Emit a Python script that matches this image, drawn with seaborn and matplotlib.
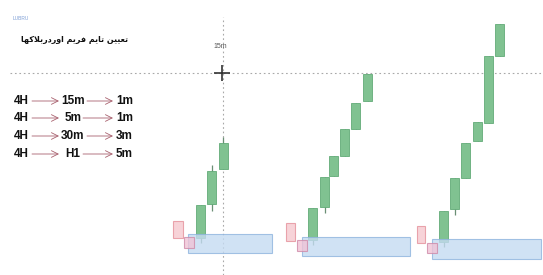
import matplotlib
matplotlib.use("Agg")
import matplotlib.pyplot as plt
from matplotlib.patches import Rectangle
import seaborn as sns

# candle data (price units, bottom of image = 0)
g1_x = [200.5, 211.5, 223.0]
g1_open = [37, 71, 106]
g1_close = [70, 104, 132]
g1_low = [32, 64, 106]
g1_high = [70, 110, 138]

g2_x = [312.5, 324.5, 333.5, 344.5, 355.5, 367.5]
g2_open = [35, 68, 99, 119, 146, 174]
g2_close = [67, 98, 119, 146, 172, 201]
g2_low = [30, 62, 99, 119, 146, 174]
g2_high = [67, 98, 119, 146, 172, 201]

g3_x = [443.5, 454.5, 465.5, 477.5, 488.5, 499.5]
g3_open = [33, 66, 97, 134, 152, 219]
g3_close = [64, 97, 132, 153, 219, 251]
g3_low = [28, 60, 97, 134, 152, 219]
g3_high = [64, 97, 132, 153, 219, 251]

# zones: (x_left, x_right, low, high)
red_zones = [(173, 183, 37, 54), (286, 295, 34, 52), (417, 425, 32, 49)]
pink_zones = [(184, 194, 27, 38), (297, 307, 24, 35), (427, 437, 22, 32)]
blue_zones = [(188, 272, 22, 41), (302, 410, 19, 38), (432, 541, 16, 36)]

level_price = 202
cross_x = 222
tf_rows = [("4H", "15m", "1m"), ("4H", "5m", "1m"), ("4H", "30m", "3m"), ("4H", "H1", "5m")]
row_price = [174, 157, 139, 121]
title_fa = "تعیین تایم فریم اوردربلاکها"

# simple arabic-script shaping (matplotlib does no shaping / RTL)
FORMS = {
    'ت': ('\uFE95', '\uFE96', '\uFE97', '\uFE98'),
    'ع': ('\uFEC9', '\uFECA', '\uFECB', '\uFECC'),
    'ی': ('\uFBFC', '\uFBFD', '\uFBFE', '\uFBFF'),
    'ن': ('\uFEE5', '\uFEE6', '\uFEE7', '\uFEE8'),
    'ا': ('\uFE8D', '\uFE8E', None, None),
    'م': ('\uFEE1', '\uFEE2', '\uFEE3', '\uFEE4'),
    'ف': ('\uFED1', '\uFED2', '\uFED3', '\uFED4'),
    'ر': ('\uFEAD', '\uFEAE', None, None),
    'و': ('\uFEED', '\uFEEE', None, None),
    'د': ('\uFEA9', '\uFEAA', None, None),
    'ب': ('\uFE8F', '\uFE90', '\uFE91', '\uFE92'),
    'ل': ('\uFEDD', '\uFEDE', '\uFEDF', '\uFEE0'),
    'ک': ('\uFB8E', '\uFB8F', '\uFB90', '\uFB91'),
    'ه': ('\uFEE9', '\uFEEA', '\uFEEB', '\uFEEC'),
}


def shape(text):
    out = []
    for word in text.split(' '):
        res = []
        i = 0
        n = len(word)
        while i < n:
            c = word[i]
            prev_joins = i > 0 and FORMS[word[i - 1]][2] is not None
            if c == 'ل' and i + 1 < n and word[i + 1] == 'ا':
                res.append('\uFEFC' if prev_joins else '\uFEFB')
                i += 2
                continue
            next_joins = i + 1 < n and FORMS[c][2] is not None
            if prev_joins and next_joins:
                res.append(FORMS[c][3])
            elif prev_joins:
                res.append(FORMS[c][1])
            elif next_joins:
                res.append(FORMS[c][2])
            else:
                res.append(FORMS[c][0])
            i += 1
        out.append(''.join(res))
    return ' '.join(out)[::-1]


sns.set_theme(style="white")
plt.rcParams['font.family'] = ['Liberation Sans', 'DejaVu Sans']

fig = plt.figure(figsize=(5.43, 2.75), dpi=100)
ax = fig.add_axes([0, 0, 1, 1])
ax.set_xlim(0, 543)
ax.set_ylim(0, 275)
ax.axis('off')

# guide lines
ax.axhline(level_price, xmin=10 / 543, xmax=1, color='#a8a8a8', lw=0.8, ls=(0, (1.5, 2.5)), zorder=1)
ax.axvline(cross_x + 1, ymin=0, ymax=258 / 275, color='#a8a8a8', lw=0.8, ls=(0, (1.5, 2.5)), zorder=1)
ax.plot([cross_x], [level_price], marker='+', ms=11, mew=1.2, color='#333333', zorder=5)
ax.text(cross_x - 2, 228, "15m", fontsize=5, color='#555555', ha='center', va='center')

# zones
for zones, fc, ec in [(red_zones, '#f6c9cf', '#e5919b'),
                      (blue_zones, '#c5dbf2', '#8fb4de'),
                      (pink_zones, '#f0c3d6', '#cf8aa9')]:
    for x0, x1, lo, hi in zones:
        ax.add_patch(Rectangle((x0, lo), x1 - x0, hi - lo, facecolor=fc, edgecolor=ec,
                               lw=0.8, alpha=0.8, zorder=4))

# candles
for xs, op, cl, lo, hi in [(g1_x, g1_open, g1_close, g1_low, g1_high),
                           (g2_x, g2_open, g2_close, g2_low, g2_high),
                           (g3_x, g3_open, g3_close, g3_low, g3_high)]:
    ax.vlines(xs, lo, hi, color='#6a8f74', lw=0.9, zorder=2)
    ax.bar(xs, [c - o for o, c in zip(op, cl)], bottom=op, width=9,
           color='#80c291', edgecolor='#62ab78', lw=0.6, zorder=3)

# timeframe rows
for (a, b, c), yp in zip(tf_rows, row_price):
    ax.text(14, yp, a, fontsize=8.5, fontweight='bold', ha='left', va='center', color='#111111')
    ax.text(73, yp, b, fontsize=8.5, fontweight='bold', ha='center', va='center', color='#111111')
    ax.text(116, yp, c, fontsize=8.5, fontweight='bold', ha='left', va='center', color='#111111')
    arrow = dict(arrowstyle='->', color='#a8606e', lw=0.6, shrinkA=0, shrinkB=0)
    ax.annotate('', xy=(59, yp), xytext=(32, yp), arrowprops=arrow)
    ax.annotate('', xy=(113, yp), xytext=(87 if len(b) > 2 else 83, yp), arrowprops=arrow)

ax.text(75, 236, shape(title_fa), fontsize=5.8, fontweight='bold', ha='center', va='center',
        color='#111111', family=['DejaVu Sans'])
ax.text(13, 257, "LUBRU", fontsize=3.5, color='#7f9fd6', ha='left', va='center')

fig.savefig("out.png", dpi=100)
